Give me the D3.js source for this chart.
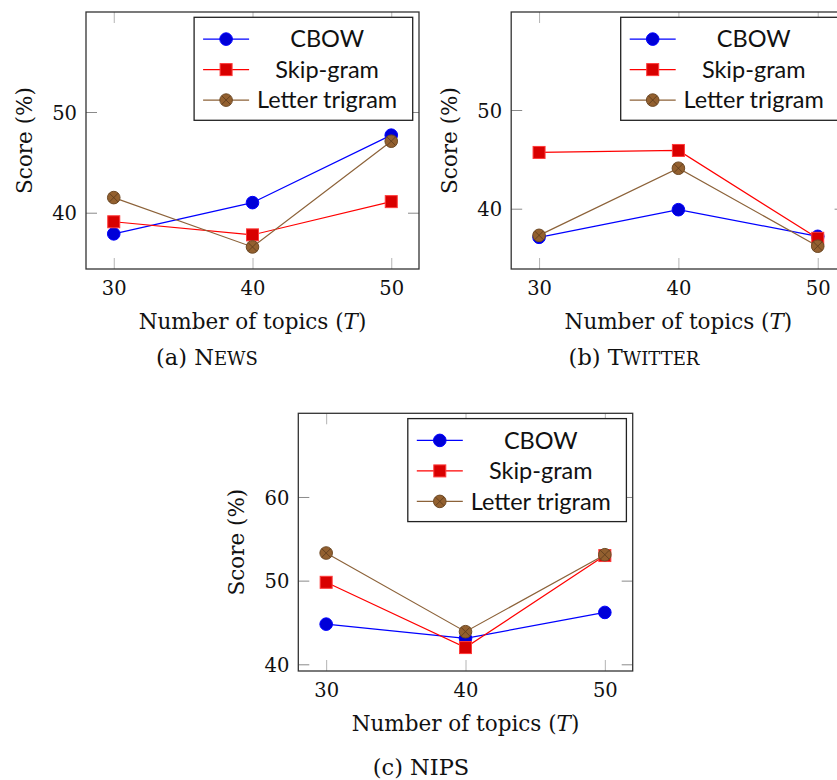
<!DOCTYPE html>
<html lang="en">
<head>
  <meta charset="UTF-8">
  <script src="https://d3js.org/d3.v7.min.js"></script>
  <style>
    body {
      margin: 0;
      padding: 0;
      background: #fff;
      overflow: hidden;
    }
    .serif {
      font-family: "DejaVu Serif", serif;
      fill: #111;
    }
    .legend-text {
      font-family: Lato, sans-serif;
      font-size: 23.5px;
      fill: #111;
    }
  </style>
</head>
<body>
  <script>
    // number of topics on the x axis
    const topics = [30, 40, 50];
    const seriesNames = ['CBOW', 'Skip-gram', 'Letter trigram'];

    // (a) News
    const newsCbow = [37.9, 41.0, 47.7];
    const newsSkip = [39.1, 37.8, 41.1];
    const newsTrigram = [41.5, 36.6, 47.1];
    const newsYTicks = [40, 50];

    // (b) Twitter
    const twitterCbow = [37.1, 39.9, 37.2];
    const twitterSkip = [45.7, 45.9, 37.0];
    const twitterTrigram = [37.3, 44.1, 36.2];
    const twitterYTicks = [40, 50];

    // (c) NIPS
    const nipsCbow = [44.8, 43.1, 46.2];
    const nipsSkip = [49.8, 42.0, 53.0];
    const nipsTrigram = [53.3, 43.9, 53.1];
    const nipsYTicks = [40, 50, 60];

    // series styles
    const lineColors = ['#0000ff', '#ff0000', '#8c6239'];
    const markFill = ['#0000d8', '#d80000', '#93602f'];
    const markStroke = ['#0000ff', '#ff3b3b', '#6e4a26'];

    const svg = d3.select('body').append('svg')
      .attr('width', 837)
      .attr('height', 780);

    // plot boxes (pixels) and axis limits
    const panels = [
      { left: 86, top: 12, width: 333, height: 257, xDomain: [28, 52], yDomain: [34.41, 59.93],
        series: [newsCbow, newsSkip, newsTrigram], yTicks: newsYTicks,
        capPrefix: '(a) ', capFirst: 'N', capRest: 'EWS', capX: 207, capY: 365 },
      { left: 511.2, top: 12, width: 334.4, height: 257, xDomain: [28, 52], yDomain: [33.89, 59.93],
        series: [twitterCbow, twitterSkip, twitterTrigram], yTicks: twitterYTicks,
        capPrefix: '(b) ', capFirst: 'T', capRest: 'WITTER', capX: 634, capY: 365 },
      { left: 298.3, top: 413.3, width: 334.4, height: 257.7, xDomain: [28, 52], yDomain: [39.2, 70],
        series: [nipsCbow, nipsSkip, nipsTrigram], yTicks: nipsYTicks,
        capPrefix: '(c) ', capFirst: 'NIPS', capRest: '', capX: 421, capY: 775 }
    ];

    function drawMark(g, i, cx, cy) {
      if (i === 1) {
        g.append('rect')
          .attr('x', cx - 6).attr('y', cy - 6)
          .attr('width', 12).attr('height', 12)
          .attr('fill', markFill[i])
          .attr('stroke', markStroke[i])
          .attr('stroke-width', 1);
      } else {
        g.append('circle')
          .attr('cx', cx).attr('cy', cy).attr('r', 6.3)
          .attr('fill', markFill[i])
          .attr('stroke', markStroke[i])
          .attr('stroke-width', 1);
        if (i === 2) {
          const d = 4.4;
          g.append('path')
            .attr('d', `M${cx - d},${cy - d}L${cx + d},${cy + d}M${cx - d},${cy + d}L${cx + d},${cy - d}`)
            .attr('stroke', '#5a3a1c')
            .attr('stroke-width', 0.8);
        }
      }
    }

    function drawPanel(p) {
      const g = svg.append('g').attr('transform', `translate(${p.left},${p.top})`);
      const x = d3.scaleLinear().domain(p.xDomain).range([0, p.width]);
      const y = d3.scaleLinear().domain(p.yDomain).range([p.height, 0]);

      // ticks on all four sides, pointing inwards
      const styleTicks = (sel, col) => {
        sel.select('.domain').remove();
        sel.selectAll('line').attr('stroke', col).attr('stroke-width', 1);
      };
      g.append('g').attr('transform', `translate(0,${p.height})`)
        .call(d3.axisBottom(x).tickValues(topics).tickSize(-11).tickPadding(12.2))
        .call(s => styleTicks(s, '#b4b4b4'))
        .selectAll('text')
        .attr('class', 'serif').attr('font-size', 19.5);
      g.append('g')
        .call(d3.axisTop(x).tickValues(topics).tickSize(-11).tickFormat(''))
        .call(s => styleTicks(s, '#b4b4b4'));
      g.append('g')
        .call(d3.axisLeft(y).tickValues(p.yTicks).tickSize(-11).tickPadding(9))
        .call(s => styleTicks(s, '#8a8a8a'))
        .selectAll('text')
        .attr('class', 'serif').attr('font-size', 19.5)
        .attr('dy', '0.37em');
      g.append('g').attr('transform', `translate(${p.width},0)`)
        .call(d3.axisRight(y).tickValues(p.yTicks).tickSize(-11).tickFormat(''))
        .call(s => styleTicks(s, '#8a8a8a'));

      g.selectAll('.tick text').attr('fill', '#111').attr('font-family', '"DejaVu Serif", serif');

      // frame
      g.append('rect')
        .attr('width', p.width).attr('height', p.height)
        .attr('fill', 'none').attr('stroke', '#333').attr('stroke-width', 1.3);

      // series
      const line = d3.line().x((d, j) => x(topics[j])).y(d => y(d));
      p.series.forEach((vals, i) => {
        g.append('path')
          .datum(vals)
          .attr('d', line)
          .attr('fill', 'none')
          .attr('stroke', lineColors[i])
          .attr('stroke-width', 1.2);
        vals.forEach((v, j) => drawMark(g, i, x(topics[j]), y(v)));
      });

      // legend
      const lgW = 218.6, lgH = 103;
      const lg = g.append('g').attr('transform', `translate(${p.width - 6.3 - lgW},5.3)`);
      lg.append('rect')
        .attr('width', lgW).attr('height', lgH)
        .attr('fill', '#fff').attr('stroke', '#222').attr('stroke-width', 1.3);
      seriesNames.forEach((name, i) => {
        const ry = 21.8 + i * 30.5;
        lg.append('line')
          .attr('x1', 9).attr('x2', 55).attr('y1', ry).attr('y2', ry)
          .attr('stroke', lineColors[i]).attr('stroke-width', 1.2);
        drawMark(lg, i, 32, ry);
        lg.append('text')
          .attr('class', 'legend-text')
          .attr('x', 133).attr('y', ry + 8.3)
          .attr('text-anchor', 'middle')
          .text(name);
      });

      // axis labels
      g.append('text')
        .attr('class', 'serif').attr('font-size', 21.5)
        .attr('x', p.width / 2).attr('y', p.height + 60)
        .attr('text-anchor', 'middle')
        .call(t => {
          t.append('tspan').text('Number of topics (');
          t.append('tspan').attr('font-style', 'italic').text('T');
          t.append('tspan').text(')');
        });
      g.append('text')
        .attr('class', 'serif').attr('font-size', 21.5)
        .attr('transform', `translate(-54,${p.height / 2}) rotate(-90)`)
        .attr('text-anchor', 'middle')
        .text('Score (%)');

      // caption, small caps done by hand
      const cap = svg.append('text')
        .attr('class', 'serif').attr('font-size', 22.5)
        .attr('x', p.capX).attr('y', p.capY)
        .attr('text-anchor', 'middle');
      cap.append('tspan').text(p.capPrefix + p.capFirst);
      if (p.capRest) cap.append('tspan').attr('font-size', 18).text(p.capRest);
    }

    panels.forEach(drawPanel);
  </script>
</body>
</html>
